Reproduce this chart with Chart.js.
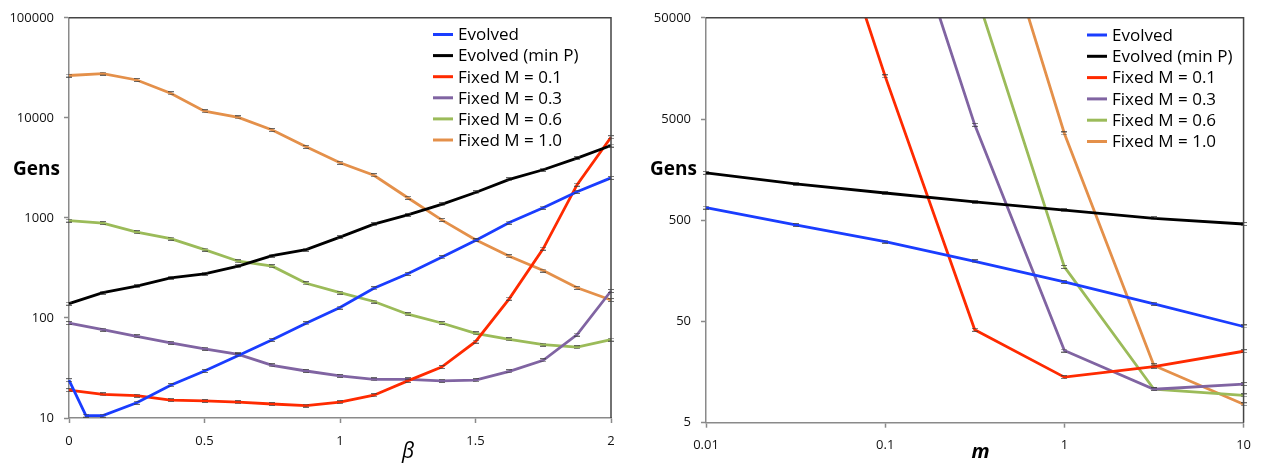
<!DOCTYPE html>
<html>
<head>
<meta charset="utf-8">
<script src="https://cdn.jsdelivr.net/npm/chart.js@4/dist/chart.umd.min.js"></script>
<style>
  html, body { margin: 0; padding: 0; background: #ffffff; }
  #wrap { position: relative; width: 1261px; height: 465px; overflow: hidden; }
  .panel { position: absolute; top: 0; height: 465px; }
  #left { left: 0; width: 630px; }
  #right { left: 630px; width: 631px; }
  canvas { display: block; }
</style>
</head>
<body>
<div id="wrap">
  <div class="panel" id="left"><canvas id="c1" width="630" height="465"></canvas></div>
  <div class="panel" id="right"><canvas id="c2" width="631" height="465"></canvas></div>
</div>
<script>
// ---- Series labels and colours ----
const seriesLabels = ['Evolved', 'Evolved (min P)', 'Fixed M = 0.1', 'Fixed M = 0.3', 'Fixed M = 0.6', 'Fixed M = 1.0'];
const seriesColors = ['#1a3dff', '#000000', '#ff2a00', '#8064a2', '#9bbb59', '#e4904a'];

// ---- Left panel: generations vs beta ----
const betaValues = [0, 0.125, 0.25, 0.375, 0.5, 0.625, 0.75, 0.875, 1, 1.125, 1.25, 1.375, 1.5, 1.625, 1.75, 1.875, 2];
const betaEvolvedValues = [0, 0.0625, 0.125, 0.25, 0.375, 0.5, 0.625, 0.75, 0.875, 1, 1.125, 1.25, 1.375, 1.5, 1.625, 1.75, 1.875, 2];
const betaGensEvolved = [23.9, 10.55, 10.55, 14.2, 21.3, 29.5, 42.2, 60.4, 88.3, 127, 198, 276, 404, 596, 898, 1265, 1825, 2510];
const betaGensMinP   = [139, 179, 208, 252, 276, 329, 420, 482, 643, 865, 1070, 1365, 1795, 2430, 3030, 3960, 5290];
const betaGensM01    = [19, 17.2, 16.7, 15.1, 14.8, 14.4, 13.8, 13.3, 14.4, 16.9, 23.5, 32.3, 58, 156, 493, 2150, 6400];
const betaGensM03    = [88.9, 76.4, 65.6, 56.4, 49.2, 43.2, 33.6, 29.5, 26.3, 24.3, 24.3, 23.5, 23.9, 29.3, 37.7, 68.2, 186];
const betaGensM06    = [940, 887, 720, 620, 482, 369, 329, 222, 179, 146, 109, 89, 70.2, 61.2, 54.2, 51, 60.8];
const betaGensM10    = [26500, 27700, 23900, 17600, 11650, 10100, 7550, 5130, 3560, 2670, 1590, 955, 605, 414, 298, 200, 151];

const betaTickValues = [0, 0.5, 1, 1.5, 2];
const betaTickLabels = ['0', '0.5', '1', '1.5', '2'];
const gensTickValuesLeft = [10, 100, 1000, 10000, 100000];
const gensTickLabelsLeft = ['10', '100', '1000', '10000', '100000'];

// ---- Right panel: generations vs m ----
const mValues = [0.01, 0.0316, 0.1, 0.316, 1, 3.16, 10];
const mGensEvolved = [667, 449, 308, 196, 123, 74.8, 44.6];
const mGensMinP    = [1469, 1145, 929, 759, 629, 521, 459];
const mGensM01     = [null, 6400000, 13200, 41.4, 14.1, 17.9, 25.4];
const mGensM03     = [null, null, 2250000, 4380, 25.8, 10.7, 12.05];
const mGensM06     = [null, null, null, 96000, 173, 10.7, 9.3];
const mGensM10     = [null, null, null, 2650000, 3600, 18.4, 7.6];

const mTickValues = [0.01, 0.1, 1, 10];
const mTickLabels = ['0.01', '0.1', '1', '10'];
const gensTickValuesRight = [5, 50, 500, 5000, 50000];
const gensTickLabelsRight = ['5', '50', '500', '5000', '50000'];

const yTitle = 'Gens';
const xTitleLeft = '\u03B2';
const xTitleRight = 'm';

// ---- Error-bar cap marker (small "=" glyph) ----
const capMarker = document.createElement('canvas');
capMarker.width = 6; capMarker.height = 4;
(function () {
  const c = capMarker.getContext('2d');
  c.fillStyle = 'rgba(60,60,60,0.75)';
  c.fillRect(0, 0, 6, 1);
  c.fillRect(0, 3, 6, 1);
})();

function pairs(xs, ys) {
  return xs.map((x, i) => ({ x: x, y: ys[i] }));
}

function makeDatasets(seriesX, seriesY) {
  return seriesY.map((ys, i) => ({
    label: seriesLabels[i],
    data: pairs(seriesX[i], ys),
    borderColor: seriesColors[i],
    backgroundColor: seriesColors[i],
    borderWidth: 2.8,
    pointStyle: capMarker,
    pointRadius: 3,
    pointHoverRadius: 3,
    tension: 0,
    spanGaps: false,
    clip: { left: 6, right: 6, top: 0, bottom: 6 }
  }));
}

// Frame, in-plot legend and axis titles
const panelDecor = {
  id: 'panelDecor',
  afterDraw(chart, args, o) {
    const ctx = chart.ctx;
    const a = chart.chartArea;
    ctx.save();
    // upper and right frame edges
    ctx.strokeStyle = '#444444';
    ctx.lineWidth = 1.5;
    ctx.beginPath();
    ctx.moveTo(a.left, a.top);
    ctx.lineTo(a.right, a.top);
    ctx.lineTo(a.right, a.bottom);
    ctx.stroke();

    // legend inside plot area
    ctx.font = '17px "Open Sans"';
    ctx.textBaseline = 'middle';
    ctx.textAlign = 'left';
    chart.data.datasets.forEach((ds, i) => {
      const y = o.legendY + i * o.legendRow;
      ctx.strokeStyle = ds.borderColor;
      ctx.lineWidth = 3;
      ctx.beginPath();
      ctx.moveTo(o.legendX, y);
      ctx.lineTo(o.legendX + 20, y);
      ctx.stroke();
      ctx.fillStyle = '#000000';
      ctx.fillText(ds.label, o.legendX + 25, y + 1);
    });

    // y-axis title (horizontal)
    ctx.font = 'bold 19px "Open Sans"';
    ctx.textBaseline = 'alphabetic';
    ctx.textAlign = 'left';
    ctx.fillStyle = '#000000';
    ctx.fillText(o.yTitle, o.yTitleX, o.yTitleY);

    // x-axis title
    ctx.font = o.xTitleFont;
    ctx.textAlign = 'center';
    ctx.fillText(o.xTitle, o.xTitleX, o.xTitleY);
    ctx.restore();
  }
};

function axisCommon() {
  return {
    grid: { display: true, drawOnChartArea: false, drawTicks: true, tickLength: 5, tickColor: '#8a8a8a', tickWidth: 1.5 },
    border: { display: true, color: '#8a8a8a', width: 1.5 },
    ticks: { color: '#111111', font: { family: 'Open Sans', size: 13 }, padding: 10, autoSkip: false, maxRotation: 0 }
  };
}

function buildChart(canvasId, cfg) {
  const xAxis = axisCommon();
  const yAxis = axisCommon();
  Object.assign(xAxis, {
    type: cfg.xType, min: cfg.xMin, max: cfg.xMax, position: 'bottom',
    afterBuildTicks: s => { s.ticks = cfg.xTicks.map(v => ({ value: v })); },
    afterFit: s => { s.height = cfg.xHeight; }
  });
  xAxis.ticks.callback = (v, i) => cfg.xLabels[i];
  Object.assign(yAxis, {
    type: 'logarithmic', min: cfg.yMin, max: cfg.yMax, position: 'left',
    afterBuildTicks: s => { s.ticks = cfg.yTicks.map(v => ({ value: v })); },
    afterFit: s => { s.width = cfg.yWidth; }
  });
  yAxis.ticks.callback = (v, i) => cfg.yLabels[i];

  return new Chart(document.getElementById(canvasId), {
    type: 'line',
    data: { datasets: cfg.datasets },
    options: {
      responsive: false,
      animation: false,
      devicePixelRatio: 1,
      layout: { padding: cfg.padding },
      scales: { x: xAxis, y: yAxis },
      plugins: {
        legend: { display: false },
        tooltip: { enabled: false },
        panelDecor: cfg.decor
      }
    },
    plugins: [panelDecor]
  });
}

buildChart('c1', {
  datasets: makeDatasets(
    [betaEvolvedValues, betaValues, betaValues, betaValues, betaValues, betaValues],
    [betaGensEvolved, betaGensMinP, betaGensM01, betaGensM03, betaGensM06, betaGensM10]
  ),
  xType: 'linear', xMin: 0, xMax: 2, xTicks: betaTickValues, xLabels: betaTickLabels,
  yMin: 10, yMax: 100000, yTicks: gensTickValuesLeft, yLabels: gensTickLabelsLeft,
  yWidth: 69, xHeight: 47,
  padding: { top: 14.5, right: 19, left: 0, bottom: 0 },
  decor: {
    legendX: 433, legendY: 34.5, legendRow: 21.1,
    yTitle: yTitle, yTitleX: 13, yTitleY: 175,
    xTitle: xTitleLeft, xTitleFont: 'italic 21px "Open Sans"', xTitleX: 408, xTitleY: 458
  }
});

buildChart('c2', {
  datasets: makeDatasets(
    [mValues, mValues, mValues, mValues, mValues, mValues],
    [mGensEvolved, mGensMinP, mGensM01, mGensM03, mGensM06, mGensM10]
  ),
  xType: 'logarithmic', xMin: 0.01, xMax: 10, xTicks: mTickValues, xLabels: mTickLabels,
  yMin: 5, yMax: 50000, yTicks: gensTickValuesRight, yLabels: gensTickLabelsRight,
  yWidth: 76, xHeight: 42.3,
  padding: { top: 14.3, right: 15, left: 0, bottom: 0 },
  decor: {
    legendX: 457, legendY: 35, legendRow: 21.3,
    yTitle: yTitle, yTitleX: 20, yTitleY: 175,
    xTitle: xTitleRight, xTitleFont: 'italic bold 20px "Open Sans"', xTitleX: 350.5, xTitleY: 458.3
  }
});
</script>
</body>
</html>
